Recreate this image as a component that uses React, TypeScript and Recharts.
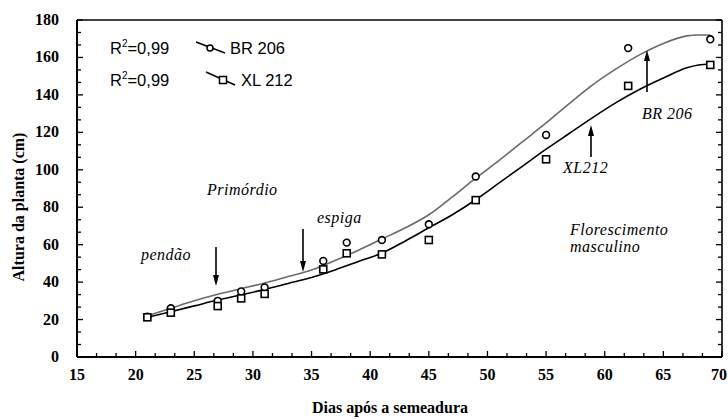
import React from 'react';
import { ComposedChart, Line, Scatter, XAxis, YAxis } from 'recharts';

// fitted growth curves (every ~2 days)
const curveDays = [21, 23, 25, 27, 29, 31, 33, 35, 37, 39, 41, 43, 45, 47, 49, 51, 53, 55, 57, 59, 61, 63, 65, 67, 68, 69];
const br206Curve = [22, 26, 30, 33.5, 36.5, 39.5, 43, 46.5, 51.5, 57, 63, 69, 76, 85.5, 95.5, 105, 115, 125, 135.5, 145.5, 154, 161.5, 167.5, 171.5, 172, 172];
const xl212Curve = [21.2, 24.2, 27.3, 30.4, 33.2, 36.1, 39.3, 42.5, 46.5, 51, 55.5, 62, 69, 76, 84, 93, 102, 111, 119.5, 128, 136, 143, 149, 154.5, 156, 156.5];

// observed heights
const obsDays = [21, 23, 27, 29, 31, 36, 38, 41, 45, 49, 55, 62, 69];
const br206Obs = [21.5, 26, 30, 35, 37.2, 51.3, 61.1, 62.5, 70.9, 96.4, 118.6, 165, 169.7];
const xl212Obs = [21.2, 23.7, 27.2, 31.3, 33.7, 46.8, 55.4, 54.8, 62.5, 83.8, 105.6, 144.8, 156];

// axis labels (3 minor intervals between each label)
const xLabels = [15, 20, 25, 30, 35, 40, 45, 50, 55, 60, 65, 70];
const yLabels = [0, 20, 40, 60, 80, 100, 120, 140, 160, 180];

const withMinor = (labels: number[]) => {
  const out: number[] = [];
  labels.forEach((v, i) => {
    out.push(v);
    if (i < labels.length - 1) {
      const step = (labels[i + 1] - v) / 3;
      out.push(v + step, v + 2 * step);
    }
  });
  return out;
};
const xTicks = withMinor(xLabels);
const yTicks = withMinor(yLabels);
const isLabel = (labels: number[], v: number) => labels.some((l) => Math.abs(l - v) < 1e-6);

const pairs = (xs: number[], ys: number[]) => xs.map((x, i) => ({ x, y: ys[i] }));
const br206Line = pairs(curveDays, br206Curve);
const xl212Line = pairs(curveDays, xl212Curve);
const br206Pts = pairs(obsDays, br206Obs);
const xl212Pts = pairs(obsDays, xl212Obs);

const SERIF = "'Liberation Serif', 'Times New Roman', serif";
const SANS = "'Liberation Sans', Arial, sans-serif";

const boldSerif = { fontFamily: SERIF, fontWeight: 700, fontSize: 16 };
const sans = { fontFamily: SANS, fontSize: 16.5 };
const italic = { fontFamily: SERIF, fontStyle: 'italic' as const, fontSize: 16, letterSpacing: 0.5 };

const BottomTick = (p: any) => {
  const v = p.payload.value;
  const major = isLabel(xLabels, v);
  const last = Math.abs(v - 70) < 1e-6;
  return (
    <g>
      <line x1={p.x} x2={p.x} y1={p.y} y2={p.y - (major ? 6 : 4)} stroke="#000" strokeWidth={1.3} />
      {major && (
        <text x={last ? p.x + 5 : p.x} y={p.y + 23} textAnchor={last ? 'end' : 'middle'} style={boldSerif} fill="#000">
          {Math.round(v)}
        </text>
      )}
    </g>
  );
};

const TopTick = (p: any) => {
  const major = isLabel(xLabels, p.payload.value);
  return <line x1={p.x} x2={p.x} y1={p.y} y2={p.y + (major ? 6 : 4)} stroke="#000" strokeWidth={1.3} />;
};

const LeftTick = (p: any) => {
  const major = isLabel(yLabels, p.payload.value);
  return (
    <g>
      <line x1={p.x} x2={p.x + (major ? 6 : 4)} y1={p.y} y2={p.y} stroke="#000" strokeWidth={1.3} />
      {major && (
        <text x={p.x - 18} y={p.y + 5} textAnchor="end" style={boldSerif} fill="#000">
          {Math.round(p.payload.value)}
        </text>
      )}
    </g>
  );
};

const RightTick = (p: any) => {
  const major = isLabel(yLabels, p.payload.value);
  return <line x1={p.x} x2={p.x - (major ? 6 : 4)} y1={p.y} y2={p.y} stroke="#000" strokeWidth={1.3} />;
};

const CircleMark = (p: any) => <circle cx={p.cx} cy={p.cy} r={3.4} fill="#fff" stroke="#000" strokeWidth={1.6} />;
const SquareMark = (p: any) => <rect x={p.cx - 3.5} y={p.cy - 3.5} width={7} height={7} fill="#fff" stroke="#000" strokeWidth={1.6} />;

const Arrow = ({ x, from, to }: { x: number; from: number; to: number }) => {
  const dir = to > from ? 1 : -1;
  return (
    <g>
      <line x1={x} x2={x} y1={from} y2={to - dir * 8} stroke="#000" strokeWidth={1.6} />
      <path d={`M${x - 3},${to - dir * 11} L${x},${to} L${x + 3},${to - dir * 11} Z`} fill="#000" />
    </g>
  );
};

export default function App() {
  return (
    <div style={{ position: 'relative', width: 728, height: 419, background: '#fff' }}>
      <style>{'body{margin:0}'}</style>
      <ComposedChart width={728} height={419} margin={{ top: 19, right: 5, left: 0, bottom: 0 }}>
        <XAxis
          xAxisId="b" dataKey="x" type="number" domain={[15, 70]} ticks={xTicks} interval={0}
          height={62} tickSize={0} tickMargin={0} tick={<BottomTick />} tickLine={false}
          axisLine={{ stroke: '#000', strokeWidth: 2 }} allowDataOverflow
        />
        <XAxis
          xAxisId="t" orientation="top" type="number" domain={[15, 70]} ticks={xTicks} interval={0}
          height={1} tickSize={0} tickMargin={0} tick={<TopTick />} tickLine={false}
          axisLine={{ stroke: '#000', strokeWidth: 1.6 }} allowDataOverflow
        />
        <YAxis
          yAxisId="l" type="number" domain={[0, 180]} ticks={yTicks} interval={0}
          width={77} tickSize={0} tickMargin={0} tick={<LeftTick />} tickLine={false}
          axisLine={{ stroke: '#000', strokeWidth: 2 }} allowDataOverflow
        />
        <YAxis
          yAxisId="r" orientation="right" type="number" domain={[0, 180]} ticks={yTicks} interval={0}
          width={1} tickSize={0} tickMargin={0} tick={<RightTick />} tickLine={false}
          axisLine={{ stroke: '#000', strokeWidth: 1.6 }} allowDataOverflow
        />
        <Line
          xAxisId="b" yAxisId="l" data={br206Line} dataKey="y" type="monotone"
          stroke="#6a6a6a" strokeWidth={1.6} dot={false} isAnimationActive={false}
        />
        <Line
          xAxisId="b" yAxisId="l" data={xl212Line} dataKey="y" type="monotone"
          stroke="#000" strokeWidth={1.6} dot={false} isAnimationActive={false}
        />
        <Scatter xAxisId="b" yAxisId="l" data={br206Pts} dataKey="y" shape={<CircleMark />} isAnimationActive={false} />
        <Scatter xAxisId="b" yAxisId="l" data={xl212Pts} dataKey="y" shape={<SquareMark />} isAnimationActive={false} />
      </ComposedChart>

      <svg width={728} height={419} style={{ position: 'absolute', left: 0, top: 0, pointerEvents: 'none' }}>
        {/* axis titles */}
        <text transform="translate(24,207) rotate(-90)" textAnchor="middle" style={boldSerif}>
          Altura da planta (cm)
        </text>
        <text x={390} y={413} textAnchor="middle" style={boldSerif}>
          Dias após a semeadura
        </text>

        {/* legend */}
        <text x={110} y={54} style={sans}>
          R<tspan style={{ fontSize: 10 }} dy={-7}>2</tspan><tspan dy={7}>=0,99</tspan>
        </text>
        <text x={110} y={86} style={sans}>
          R<tspan style={{ fontSize: 10 }} dy={-7}>2</tspan><tspan dy={7}>=0,99</tspan>
        </text>
        <line x1={196} y1={42} x2={225} y2={53} stroke="#000" strokeWidth={1.5} />
        <circle cx={210} cy={48} r={3} fill="#fff" stroke="#000" strokeWidth={1.5} />
        <text x={230} y={54} style={sans}>BR 206</text>
        <line x1={206} y1={72} x2={235} y2={85} stroke="#000" strokeWidth={1.5} />
        <rect x={219.5} y={76.5} width={7} height={7} fill="#fff" stroke="#000" strokeWidth={1.5} />
        <text x={241} y={86} style={sans}>XL 212</text>

        {/* phenology notes */}
        <text x={207} y={195} style={italic}>Primórdio</text>
        <text x={141} y={260} style={italic}>pendão</text>
        <text x={317} y={223} style={italic}>espiga</text>
        <text x={570} y={235} style={italic}>Florescimento</text>
        <text x={570} y={252} style={italic}>masculino</text>
        <text x={563} y={173} style={italic}>XL212</text>
        <text x={642} y={119} style={italic}>BR 206</text>
        <Arrow x={216} from={247} to={286} />
        <Arrow x={303} from={229} to={272} />
        <Arrow x={591} from={157} to={125} />
        <Arrow x={647} from={92} to={50} />
      </svg>
    </div>
  );
}
